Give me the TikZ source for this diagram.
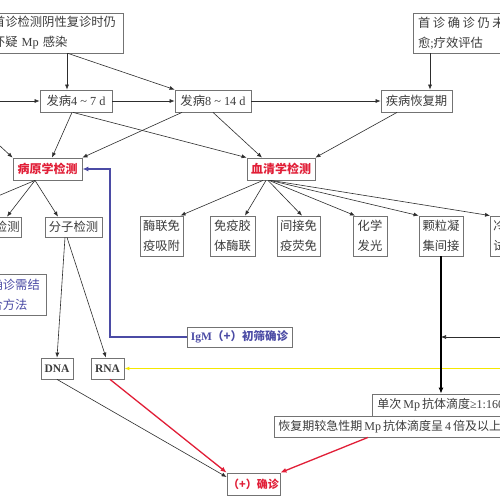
\documentclass[tikz,border=0pt]{standalone}
\usepackage{fontspec}
\setmainfont{Liberation Serif}
\newfontfamily\cjk{Noto Sans CJK SC}
\usetikzlibrary{arrows.meta}
\definecolor{boxgray}{RGB}{115,115,115}
\definecolor{linegray}{RGB}{45,45,45}
\definecolor{txtgray}{RGB}{60,60,60}
\definecolor{myred}{RGB}{225,30,55}
\definecolor{myblue}{RGB}{75,75,165}
\definecolor{myyellow}{RGB}{245,232,0}
\begin{document}
\begin{tikzpicture}[x=1pt,y=-1pt,
  box/.style={draw=boxgray, line width=0.8pt, inner sep=0pt, align=center,
    text=txtgray, font=\cjk\fontsize{12.3}{20}\selectfont},
  redbox/.style={box, text=myred, font=\cjk\bfseries\fontsize{12}{20}\selectfont},
  bluebox/.style={box, text=myblue, font=\cjk\bfseries\fontsize{11.5}{20}\selectfont},
  serobox/.style={box, minimum height=40pt},
  conn/.style={draw=linegray, line width=0.6pt, -{Latex[length=5pt,width=4pt]}},
  plainline/.style={draw=linegray, line width=0.6pt},
  redarr/.style={draw=myred, line width=1.3pt, -{Latex[length=6pt,width=5pt]}},
  bluearr/.style={draw=myblue, line width=1.2pt, -{Latex[length=6pt,width=5pt]}},
  yelarr/.style={draw=myyellow, line width=1.2pt, -{Latex[length=5pt,width=4pt]}},
  blackarr/.style={draw=black, line width=1.1pt, -{Latex[length=6pt,width=5pt]}},
]
\useasboundingbox (0,0) rectangle (500,500);
\clip (0,0) rectangle (500,500);
\fill[white] (0,0) rectangle (500,500);

% top row
\node[box, minimum width=134pt, minimum height=40pt, text width=126pt, align=left] (topL) at (56,33)
  {首诊检测阴性复诊时仍\\怀疑{\rmfamily\ Mp }感染};
\node[box, minimum width=117pt, minimum height=40pt, text width=107pt, align=left] (topR) at (471.5,33)
  {首\hspace{2.6pt}诊\hspace{2.6pt}确\hspace{2.6pt}诊\hspace{2.6pt}仍\hspace{2.6pt}未\\愈{\rmfamily ;}疗效评估};
\node[box, minimum width=72pt, minimum height=22pt] (o47) at (76,101)
  {发病{\rmfamily 4 \textasciitilde{} 7 d}};
\node[box, minimum width=76pt, minimum height=22pt] (o814) at (213,101)
  {发病{\rmfamily 8 \textasciitilde{} 14 d}};
\node[box, minimum width=71pt, minimum height=22pt] (recov) at (416.5,101) {疾病恢复期};

% level 2
\node[redbox, minimum width=69pt, minimum height=22pt] (path) at (47.5,169) {病原学检测};
\node[redbox, minimum width=68pt, minimum height=22pt] (serum) at (281,169) {血清学检测};

% pathogen branch
\node[box, minimum height=20pt, text width=46pt, align=right, inner xsep=2pt, anchor=east] (ld) at (22,227) {检测};
\node[box, minimum width=57pt, minimum height=20pt] (mol) at (73.5,227) {分子检测};
\node[box, text=myblue, minimum height=41pt, text width=49pt, align=left, inner xsep=7pt, anchor=east] (note) at (47,294.5)
  {确诊需结\\合方法};
\node[box, minimum width=32pt, minimum height=21pt, font=\rmfamily\bfseries\fontsize{11.5}{12}\selectfont] (dna) at (57,368.5) {DNA};
\node[box, minimum width=33pt, minimum height=21pt, font=\rmfamily\bfseries\fontsize{11.5}{12}\selectfont] (rna) at (107.5,368.5) {RNA};
\node[bluebox, minimum width=105pt, minimum height=20pt] (igm) at (239.5,337) {{\rmfamily IgM}（+）初筛确诊};

% serology boxes
\node[serobox, minimum width=43pt] (s1) at (161.5,236) {酶联免\\疫吸附};
\node[serobox, minimum width=45pt] (s2) at (232.5,236) {免疫胶\\体酶联};
\node[serobox, minimum width=43pt] (s3) at (298.5,236) {间接免\\疫荧免};
\node[serobox, minimum width=34pt] (s4) at (370,236) {化学\\发光};
\node[serobox, minimum width=44pt] (s5) at (441,236) {颗粒凝\\集间接};
\node[serobox, text width=38pt, align=left, inner xsep=3pt, anchor=west] (s6) at (490,236) {冷凝\\试验};

% titre boxes
\node[box, minimum height=22pt, text width=160pt, align=left, inner xsep=5pt, anchor=west, font=\cjk\fontsize{12}{20}\selectfont] (single) at (372,405)
  {单次{\rmfamily\,Mp\,}抗体滴度{\rmfamily ≥1:160}};
\node[box, minimum height=21pt, text width=240pt, align=left, inner xsep=4pt, anchor=west, font=\cjk\fontsize{12}{20}\selectfont] (four) at (274,426.5)
  {恢复期较急性期{\rmfamily\,Mp\,}抗体滴度呈{\rmfamily\,4\,}倍及以上};
\node[redbox, minimum width=53pt, minimum height=22pt, font=\cjk\bfseries\fontsize{11}{20}\selectfont] (confirm) at (253.5,484) {（+）确诊};

% helper coordinates
\coordinate (c1) at ([xshift=-9pt]o47.north);
\coordinate (c3) at ([xshift=13.5pt]recov.north);
\coordinate (L0) at (-15,101);
\coordinate (L1) at (-13,134);
\coordinate (L2) at (-25,205.7);
\coordinate (Yr) at (510,368.5);
\coordinate (Hr) at (510,337);
\coordinate (bx) at (110,0);

% connectors
\draw[conn] (c1 |- topL.south) -- (c1);
\draw[conn] ([xshift=12pt]topL.south) -- (o814.north west);
\draw[conn] (L0) -- (o47.west);
\draw[conn] (o47.east) -- (o814.west);
\draw[conn] (o814.east) -- (recov.west);
\draw[conn] (c3 |- topR.south) -- (c3);
\draw[conn] ([xshift=-4pt]o47.south) -- ([xshift=4.5pt]path.north);
\draw[conn] ([xshift=-3pt]o47.south) -- (serum.north west);
\draw[conn] ([xshift=-31pt]o814.south) -- (path.north east);
\draw[conn] (o814.south) -- ([xshift=-19pt]serum.north);
\draw[conn] ([xshift=-19.5pt]recov.south) -- (serum.north east);
\draw[conn] (L1) -- (path.north west);
\draw[conn] ([xshift=-12.5pt]path.south) -- ([xshift=-15pt]ld.north east);
\draw[plainline] ([xshift=-12.5pt]path.south) -- (L2);
\draw[conn] ([xshift=-12.5pt]path.south) -- ([xshift=-15.5pt]mol.north);
\draw[conn] ([xshift=-8.5pt]mol.south) -- (dna.north);
\draw[conn] ([xshift=-6.5pt]mol.south) -- ([xshift=-1.5pt]rna.north);

\draw[conn] ([xshift=-18pt]serum.south) -- ([xshift=19pt]s1.north);
\draw[conn] ([xshift=-15pt]serum.south) -- ([xshift=12.5pt]s2.north);
\draw[conn] ([xshift=-13pt]serum.south) -- ([xshift=3.5pt]s3.north);
\draw[conn] ([xshift=-12pt]serum.south) -- ([xshift=-15pt]s4.north);
\draw[conn] ([xshift=-11pt]serum.south) -- (s5.north west);
\draw[conn] ([xshift=-10pt]serum.south) -- (s6.north west);

\draw[bluearr] (igm.west) -| (bx |- path.east) -- (path.east);
\draw[yelarr] (Yr) -- (rna.east);
\draw[blackarr] (s5.south) -- (s5.south |- single.north);
\draw[conn] (Hr) -- (Hr -| s5.south);

\draw[redarr] ([xshift=94pt]four.south west) -- (confirm.north east);
\draw[redarr] ([xshift=2.5pt]rna.south) -- (confirm.north west);
\draw[conn] (dna.south) -- ([yshift=7pt]confirm.west);
\end{tikzpicture}
\end{document}
